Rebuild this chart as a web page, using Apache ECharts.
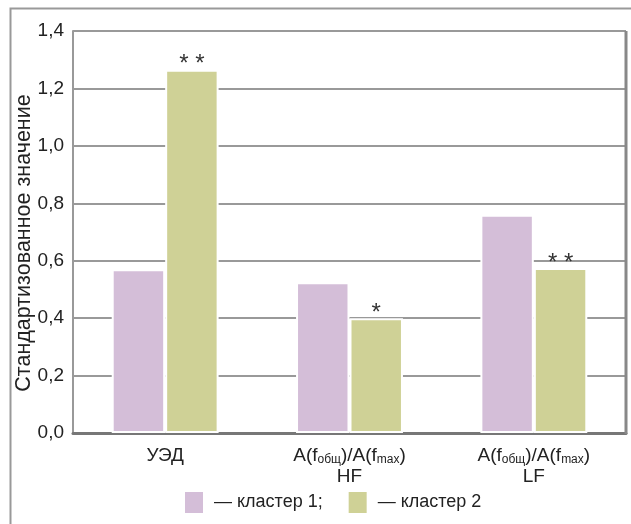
<!DOCTYPE html>
<html>
<head>
<meta charset="utf-8">
<script src="https://cdn.jsdelivr.net/npm/echarts@6/dist/echarts.min.js"></script>
<style>
html,body{margin:0;padding:0;background:#fff;}
#chart{width:631px;height:524px;}
</style>
</head>
<body>
<div id="chart"></div>
<script>
// ---- data ----
var categories = ['УЭД', 'HF', 'LF'];
var categoryPrefix = ['', 'A(fобщ)/A(fmax)', 'A(fобщ)/A(fmax)'];
var seriesNames = ['кластер 1', 'кластер 2'];
var cluster1 = [0.57, 0.525, 0.76];
var cluster2 = [1.265, 0.40, 0.575];
var significance2 = ['* *', '*', '* *'];
var yTicks = ['0,0', '0,2', '0,4', '0,6', '0,8', '1,0', '1,2', '1,4'];
var yAxisTitle = 'Стандартизованное значение';

var FONT = "'Liberation Sans', Arial, sans-serif";

function catLabel(value, idx) {
  var p = categoryPrefix[idx];
  if (!p) return '{m|' + value + '}';
  return '{m|A(f}{s|общ}{m|)/A(f}{s|max}{m|)}\n{m|' + value + '}';
}

var chart = echarts.init(document.getElementById('chart'), null, {renderer: 'canvas'});
chart.setOption({
  animation: false,
  backgroundColor: '#fff',
  graphic: [{
    type: 'rect', left: 8, top: 6, z: -1,
    shape: {width: 640, height: 540},
    style: {fill: 'none', stroke: '#999', lineWidth: 2}
  }, {
    type: 'line', z: 10,
    shape: {x1: 626, y1: 31, x2: 626, y2: 434},
    style: {stroke: '#888', lineWidth: 3}
  }],
  grid: {left: 73, right: 5, top: 31, bottom: 91, containLabel: false, outerBoundsMode: 'none'},
  legend: {
    bottom: 6, left: 180,
    icon: 'rect', itemWidth: 18, itemHeight: 21, itemGap: 26,
    itemStyle: {borderWidth: 0},
    textStyle: {fontFamily: FONT, fontSize: 18, color: '#222', padding: [0, 0, 0, 6]},
    formatter: function (name) { return '— ' + name + (name === seriesNames[0] ? ';' : ''); },
    data: seriesNames
  },
  xAxis: {
    type: 'category',
    data: categories,
    axisLine: {lineStyle: {color: '#777', width: 3}},
    axisTick: {show: false},
    axisLabel: {
      interval: 0,
      hideOverlap: false,
      margin: 12,
      formatter: catLabel,
      rich: {
        m: {fontFamily: FONT, fontSize: 19, color: '#222', lineHeight: 21},
        s: {fontFamily: FONT, fontSize: 12, color: '#222', verticalAlign: 'bottom', lineHeight: 10}
      }
    }
  },
  yAxis: {
    type: 'value',
    min: 0, max: 1.4, interval: 0.2,
    name: yAxisTitle,
    nameLocation: 'middle',
    nameGap: 38,
    nameMoveOverlap: false,
    nameRotate: 90,
    nameTextStyle: {fontFamily: FONT, fontSize: 21.5, color: '#222', padding: [0, 22, 0, 0]},
    axisLine: {show: true, lineStyle: {color: '#999', width: 2}},
    axisTick: {show: false},
    axisLabel: {
      margin: 9,
      fontFamily: FONT, fontSize: 19, color: '#222',
      formatter: function (v) { return yTicks[Math.round(v / 0.2)]; }
    },
    splitLine: {lineStyle: {color: '#999', width: 2}}
  },
  series: [{
    name: seriesNames[0],
    type: 'bar',
    data: cluster1,
    barGap: '0%',
    barCategoryGap: '42%',
    itemStyle: {color: '#d4bed8', borderColor: '#fff', borderWidth: 2}
  }, {
    name: seriesNames[1],
    type: 'bar',
    data: cluster2,
    itemStyle: {color: '#cfd196', borderColor: '#fff', borderWidth: 2},
    label: {
      show: true, position: 'top', distance: -7,
      fontFamily: FONT, fontSize: 24, color: '#333',
      formatter: function (p) { return significance2[p.dataIndex]; }
    }
  }]
});
</script>
</body>
</html>
